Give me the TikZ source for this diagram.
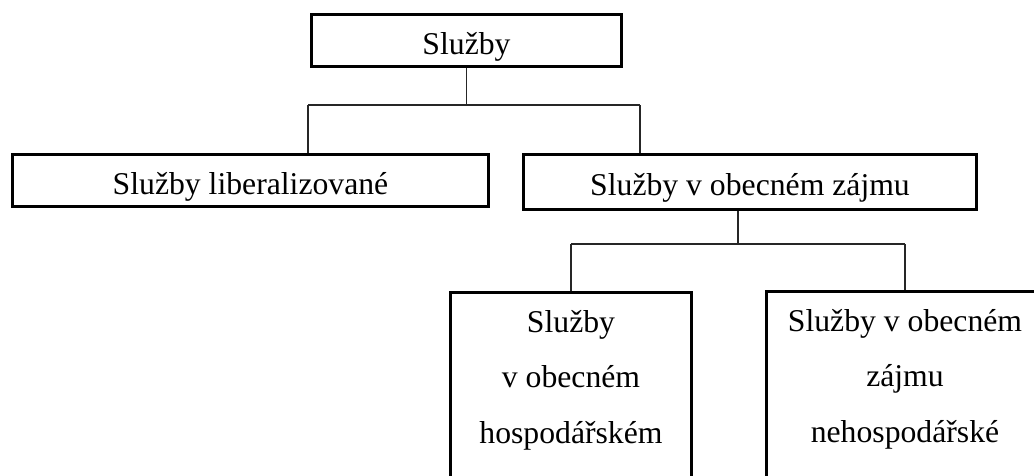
\documentclass[tikz,border=0pt]{standalone}
\usepackage{fontspec}
\setmainfont{Liberation Serif}
\begin{document}
\begin{tikzpicture}[x=1pt,y=-1pt,
  box/.style={draw=black, line width=3pt, inner sep=0pt},
  wire/.style={draw=black!85, line width=1.3pt},
  lbl/.style={font=\fontsize{31.7}{55.5}\selectfont, inner sep=0pt, align=center}]
\useasboundingbox (0,0) rectangle (1034,475);
% boxes
\node[box, minimum width=310pt, minimum height=52pt] (root) at (466.5,40.5) {};
\node[box, minimum width=476pt, minimum height=52pt] (lib) at (250.5,180.5) {};
\node[box, minimum width=453pt, minimum height=55pt] (zaj) at (750,182) {};
\node[box, minimum width=241pt, minimum height=300pt] (hosp) at (571,442.5) {};
\node[box, minimum width=277pt, minimum height=300pt] (neh) at (905,441.5) {};
% labels
\node[lbl, anchor=base] (roott) at (466.5,54) {Služby};
\node[lbl, anchor=base] (libt) at (250.5,194) {Služby liberalizované};
\node[lbl, anchor=base] (zajt) at (750,195) {Služby v obecném zájmu};
\node[lbl, anchor=base] (hospt) at (571,443) {Služby\\v obecném\\hospodářském};
\node[lbl, anchor=base] (neht) at (905,442) {Služby v obecném\\zájmu\\nehospodářské};
% connectors
\coordinate (a0) at (466.5,105);
\coordinate (a1) at (308,105);
\coordinate (a2) at (640,105);
\draw[wire] (root.south) -- (a0);
\draw[wire] (a1) -- (a2);
\draw[wire] (a1) -- (a1 |- lib.north);
\draw[wire] (a2) -- (a2 |- zaj.north);
\coordinate (b0) at (738,244);
\coordinate (b1) at (571,244);
\coordinate (b2) at (905,244);
\draw[wire] (b0 |- zaj.south) -- (b0);
\draw[wire] (b1) -- (b2);
\draw[wire] (b1) -- (b1 |- hosp.north);
\draw[wire] (b2) -- (b2 |- neh.north);
\end{tikzpicture}
\end{document}
